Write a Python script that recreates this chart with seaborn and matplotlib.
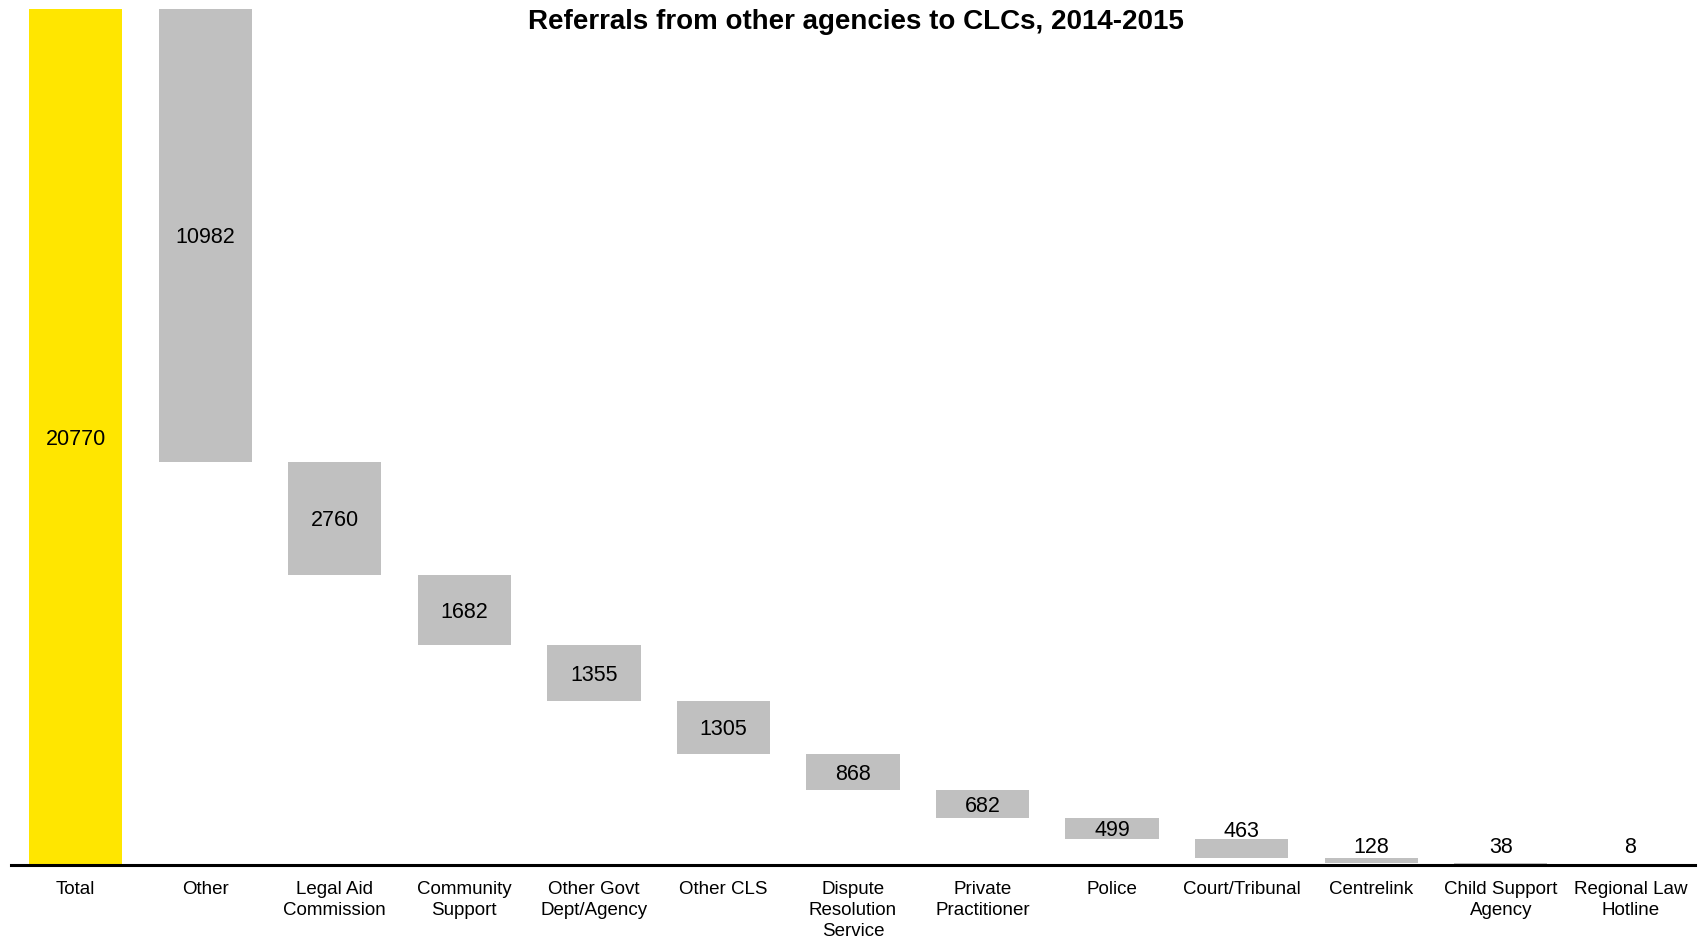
import numpy as np
import pandas as pd
import matplotlib
matplotlib.use("Agg")
import matplotlib.pyplot as plt
import seaborn as sns

# Referral sources (first entry is the overall total)
categories = [
    "Total", "Other", "Legal Aid\nCommission", "Community\nSupport",
    "Other Govt\nDept/Agency", "Other CLS", "Dispute\nResolution\nService",
    "Private\nPractitioner", "Police", "Court/Tribunal", "Centrelink",
    "Child Support\nAgency", "Regional Law\nHotline",
]
referrals = [20770, 10982, 2760, 1682, 1355, 1305, 868, 682, 499, 463, 128, 38, 8]

TOTAL_COLOR = "#FFE600"
STEP_COLOR = "#C0C0C0"

# Waterfall: each source hangs below the remainder left by the previous ones
total = referrals[0]
steps = np.array(referrals[1:])
step_bottoms = total - np.cumsum(steps)
bottoms = np.concatenate([[0], step_bottoms])

df = pd.DataFrame({"category": categories, "referrals": referrals})

sns.set_style("white")
plt.rcParams["font.family"] = ["Liberation Sans", "DejaVu Sans"]

fig = plt.figure(figsize=(17.07, 9.4), dpi=100)
ax = fig.add_axes([0.0064, 0.0798, 0.9866, 0.9106])

sns.barplot(
    data=df, x="category", y="referrals", order=categories,
    color=STEP_COLOR, saturation=1, width=0.72, errorbar=None,
    bottom=bottoms, linewidth=0, ax=ax,
)
ax.patches[0].set_facecolor(TOTAL_COLOR)

ax.set_ylim(0, total)
ax.set_xlim(-0.5, len(categories) - 0.5)
ax.set_xlabel("")
ax.set_ylabel("")
ax.set_yticks([])
for side in ("left", "top", "right"):
    ax.spines[side].set_visible(False)
ax.spines["bottom"].set_linewidth(2.2)
ax.spines["bottom"].set_color("black")
ax.tick_params(axis="x", length=0, pad=11.5, labelsize=13.5, colors="black")
for lbl in ax.get_xticklabels():
    lbl.set_linespacing(1.3)

# Value labels: centred in tall bars, sitting above thin ones
# (thin-bar labels keep a minimum height so they clear the axis line)
label_floor = 240
for i, (val, base) in enumerate(zip(referrals, bottoms)):
    if val >= 480:
        ax.text(i, base + val / 2, f"{val}", ha="center", va="center_baseline",
                fontsize=15.5, color="black")
    else:
        ax.annotate(f"{val}", (i, max(base + val, label_floor)), xytext=(0, 1.5),
                    textcoords="offset points", ha="center", va="baseline",
                    fontsize=15.5, color="black")

fig.text(0.5015, 1 - 9 / 940, "Referrals from other agencies to CLCs, 2014-2015",
         ha="center", va="top", fontsize=20, fontweight="bold", color="black")

fig.savefig("out.png", dpi=100, facecolor="white")
